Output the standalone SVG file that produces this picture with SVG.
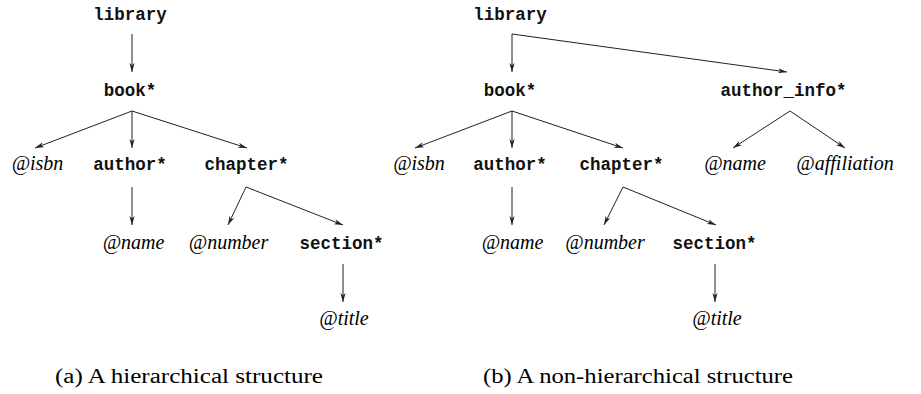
<svg xmlns="http://www.w3.org/2000/svg" width="921" height="394" viewBox="0 0 921 394">
<defs>
<marker id="ah" markerWidth="10" markerHeight="6" refX="9" refY="3" orient="auto" markerUnits="userSpaceOnUse">
<path d="M0,0.4 L9,3 L0,5.6 L2.5,3 Z" fill="#222" stroke="none"/>
</marker>
<style>
.tt{font-family:"Liberation Mono","DejaVu Sans Mono",monospace;font-weight:bold;font-size:17.5px;fill:#111;text-anchor:middle}
.it{font-family:"Liberation Serif","DejaVu Serif",serif;font-style:italic;font-size:20px;fill:#000;text-anchor:middle}
.cap{font-family:"Liberation Serif","DejaVu Serif",serif;font-size:20px;fill:#000}
.e{stroke:#222;stroke-width:1;fill:none;marker-end:url(#ah)}
</style>
</defs>
<rect width="921" height="394" fill="#fff"/>
<g id="connectors">
<line class="e" x1="132" y1="34" x2="132" y2="72"/>
<line class="e" x1="132" y1="111" x2="35" y2="148"/>
<line class="e" x1="132" y1="111" x2="132" y2="148"/>
<line class="e" x1="132" y1="111" x2="247" y2="148"/>
<line class="e" x1="132" y1="187" x2="132" y2="225"/>
<line class="e" x1="246" y1="187" x2="228" y2="225"/>
<line class="e" x1="246" y1="187" x2="343" y2="225"/>
<line class="e" x1="343" y1="264" x2="343" y2="302"/>
<line class="e" x1="512" y1="34" x2="512" y2="72"/>
<line class="e" x1="512" y1="34" x2="787" y2="72"/>
<line class="e" x1="512" y1="111" x2="415" y2="148"/>
<line class="e" x1="512" y1="111" x2="512" y2="148"/>
<line class="e" x1="512" y1="111" x2="623" y2="148"/>
<line class="e" x1="790" y1="111" x2="733" y2="148"/>
<line class="e" x1="790" y1="111" x2="845" y2="148"/>
<line class="e" x1="512" y1="187" x2="512" y2="225"/>
<line class="e" x1="623" y1="187" x2="604" y2="225"/>
<line class="e" x1="623" y1="187" x2="716" y2="225"/>
<line class="e" x1="715" y1="264" x2="715" y2="302"/>
</g>
<g id="a-library"><text class="tt" x="130" y="20">library</text></g>
<g id="a-book"><text class="tt" x="130" y="96">book*</text></g>
<g id="a-isbn"><text class="it" x="37.5" y="170">@isbn</text></g>
<g id="a-author"><text class="tt" x="130" y="170">author*</text></g>
<g id="a-chapter"><text class="tt" x="246.5" y="170">chapter*</text></g>
<g id="a-name"><text class="it" x="133.5" y="249">@name</text></g>
<g id="a-number"><text class="it" x="228.5" y="249">@number</text></g>
<g id="a-section"><text class="tt" x="341.5" y="249">section*</text></g>
<g id="a-title"><text class="it" x="344" y="325">@title</text></g>
<g id="a-caption"><text class="cap" x="55" y="383" textLength="268" lengthAdjust="spacingAndGlyphs">(a)  A hierarchical structure</text></g>
<g id="b-library"><text class="tt" x="510" y="20">library</text></g>
<g id="b-book"><text class="tt" x="510" y="96">book*</text></g>
<g id="b-authorinfo"><text class="tt" x="783.5" y="96">author_info*</text></g>
<g id="b-isbn"><text class="it" x="419" y="170">@isbn</text></g>
<g id="b-author"><text class="tt" x="510" y="170">author*</text></g>
<g id="b-chapter"><text class="tt" x="621.5" y="170">chapter*</text></g>
<g id="b-ainame"><text class="it" x="735" y="170">@name</text></g>
<g id="b-affiliation"><text class="it" x="845" y="170">@affiliation</text></g>
<g id="b-name"><text class="it" x="512.5" y="249">@name</text></g>
<g id="b-number"><text class="it" x="605" y="249">@number</text></g>
<g id="b-section"><text class="tt" x="714.5" y="249">section*</text></g>
<g id="b-title"><text class="it" x="717" y="325">@title</text></g>
<g id="b-caption"><text class="cap" x="483" y="383" textLength="310" lengthAdjust="spacingAndGlyphs">(b)  A non-hierarchical structure</text></g>
</svg>
